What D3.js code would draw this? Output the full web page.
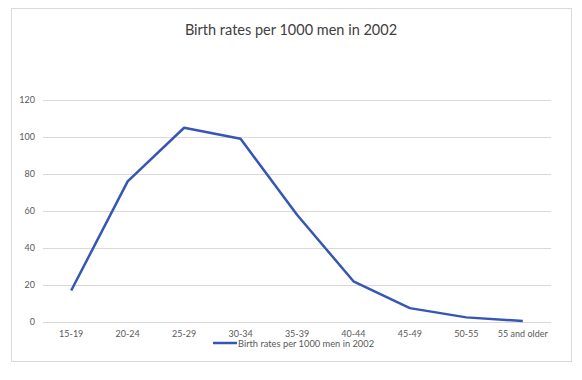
<!DOCTYPE html>
<html>
<head>
<meta charset="utf-8">
<script src="https://cdn.jsdelivr.net/npm/d3@7"></script>
<style>
  body { margin: 0; background: #fff; }
  #chart { width: 582px; height: 380px; }
</style>
</head>
<body>
<div id="chart"></div>
<script>
// Chart data
const categories = ["15-19", "20-24", "25-29", "30-34", "35-39", "40-44", "45-49", "50-55", "55 and older"];
const values = [17, 76, 105, 99, 58, 22, 7.5, 2.5, 0.5];
const yTicks = [0, 20, 40, 60, 80, 100, 120];
const seriesName = "Birth rates per 1000 men in 2002";

const width = 582, height = 380;
const plot = { left: 43, right: 551, top: 100, bottom: 322 };

const svg = d3.select("#chart").append("svg")
    .attr("width", width)
    .attr("height", height)
    .style("font-family", "Lato, 'Open Sans', sans-serif");

// outer chart border
svg.append("rect")
    .attr("x", 11.5).attr("y", 8.5)
    .attr("width", 560).attr("height", 353)
    .attr("fill", "#fff")
    .attr("stroke", "#d9d9d9");

svg.append("text")
    .attr("x", 291).attr("y", 35)
    .attr("text-anchor", "middle")
    .attr("font-size", 14.5)
    .attr("fill", "#404040")
    .text(seriesName);

const x = d3.scaleBand().domain(categories).range([plot.left, plot.right]);
const y = d3.scaleLinear().domain([0, 120]).range([plot.bottom, plot.top]);

// gridlines
svg.append("g")
    .selectAll("line")
    .data(yTicks)
    .join("line")
    .attr("x1", plot.left).attr("x2", plot.right)
    .attr("y1", d => y(d) + 0.5).attr("y2", d => y(d) + 0.5)
    .attr("stroke", "#d9d9d9");

// y labels
svg.append("g")
    .selectAll("text")
    .data(yTicks)
    .join("text")
    .attr("x", 35)
    .attr("y", d => y(d) + 3)
    .attr("text-anchor", "end")
    .attr("font-size", 9)
    .attr("fill", "#595959")
    .text(d => d);

// x labels
svg.append("g")
    .selectAll("text")
    .data(categories)
    .join("text")
    .attr("x", d => x(d) + x.bandwidth() / 2)
    .attr("y", 337)
    .attr("text-anchor", "middle")
    .attr("font-size", 9)
    .attr("fill", "#595959")
    .text(d => d);

const line = d3.line()
    .x((d, i) => x(categories[i]) + x.bandwidth() / 2)
    .y(d => y(d));

svg.append("path")
    .datum(values)
    .attr("d", line)
    .attr("fill", "none")
    .attr("stroke", "#3556b5")
    .attr("stroke-width", 2.5)
    .attr("stroke-linejoin", "round");

// legend
const legend = svg.append("g").attr("transform", "translate(213,343)");
legend.append("line")
    .attr("x1", 0).attr("x2", 24)
    .attr("y1", 0).attr("y2", 0)
    .attr("stroke", "#3556b5")
    .attr("stroke-width", 2.5);
legend.append("text")
    .attr("x", 25).attr("y", 3.5)
    .attr("font-size", 9.3)
    .attr("fill", "#595959")
    .text(seriesName);
</script>
</body>
</html>
